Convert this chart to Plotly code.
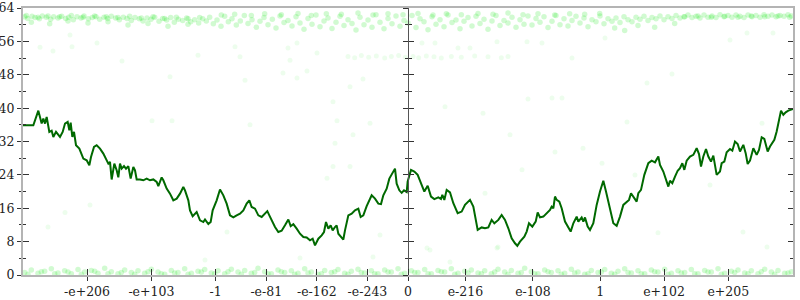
import math
import plotly.graph_objects as go

# x axis: ordinal position of a double on a symmetric exponent scale, in buckets
HALF = 1155  # buckets per sign

def bucket(v):
    if v == 0:
        return 0.0
    s = 1 if v > 0 else -1
    return s * (math.log2(abs(v)) + 1023) / 2048 * HALF

tick_labels = ["-e+206", "-e+103", "-1", "-e-81", "-e-162", "-e-243", "0",
               "e-216", "e-108", "1", "e+102", "e+205"]
tick_values = [-1e206, -1e103, -1.0, -1e-81, -1e-162, -1e-243, 0.0,
               1e-216, 1e-108, 1.0, 1e102, 1e205]

line_x = [-1155, -1124, -1109, -1099, -1094, -1089, -1084, -1076, -1069, -1064, -1056, -1049, -1044, -1036,
          -1029, -1021, -1016, -1012, -1007, -1002, -996, -986, -974, -964, -956, -951, -942, -934, -924,
          -914, -906, -899, -894, -889, -881, -874, -869, -864, -859, -852, -846, -839, -832, -824, -819,
          -814, -804, -794, -784, -774, -764, -754, -749, -739, -734, -724, -714, -704, -694, -684, -674,
          -669, -659, -654, -646, -634, -624, -614, -609, -599, -592, -586, -574, -564, -554, -544, -534,
          -524, -514, -504, -494, -484, -476, -469, -459, -449, -439, -429, -422, -416, -409, -399, -389,
          -379, -369, -359, -352, -344, -334, -324, -314, -304, -294, -286, -279, -269, -259, -252, -246,
          -239, -232, -226, -219, -214, -209, -202, -194, -189, -179, -169, -159, -149, -142, -134, -124,
          -109, -99, -89, -81, -74, -64, -56, -46, -39, -34, -26, -19, -12, -4,
          -1, 9, 19, 29, 39, 49, 59, 69, 79, 91, 99, 103, 109, 116, 126, 136, 149, 161, 171, 186, 196, 203,
          209, 221, 231, 241, 251, 259, 271, 281, 291, 301, 311, 321, 328, 336, 349, 356, 363, 373, 383,
          389, 396, 406, 416, 426, 431, 436, 441, 446, 454, 461, 471, 481, 488, 496, 506, 511, 521, 526,
          531, 539, 546, 556, 566, 576, 586, 594, 603, 616, 626, 636, 646, 656, 663, 669, 676, 686, 691,
          699, 709, 721, 731, 741, 751, 756, 766, 781, 786, 793, 801, 809, 816, 823, 829, 836, 846, 856,
          866, 873, 879, 886, 894, 901, 909, 916, 926, 936, 941, 949, 956, 966, 973, 981, 989, 996, 1006,
          1013, 1019, 1026, 1036, 1046, 1053, 1061, 1069, 1079, 1086, 1099, 1106, 1113, 1119, 1126, 1133,
          1141, 1151, 1155]
line_y = [35.9, 35.9, 39.4, 36.3, 37.5, 36.3, 37.9, 34.3, 34.6, 33.1, 34.3, 33.5, 33.1, 34.3,
          36.3, 36.7, 34.7, 36.5, 33.1, 34.3, 31.1, 30.3, 27.9, 27.5, 26.3, 28.3, 30.7, 31.1, 30.3,
          29.1, 27.9, 26.7, 27.1, 22.9, 26.7, 25.1, 23.4, 26.7, 25.5, 26.1, 25.5, 26.1, 23.1, 25.9, 25.1,
          22.9, 22.9, 22.7, 23.1, 22.7, 22.9, 22.3, 21.3, 23.4, 22.7, 20.7, 19.5, 17.9, 18.3, 19.5, 21.1,
          20.3, 17.9, 15.5, 14.1, 15.1, 13.1, 12.7, 13.3, 12.2, 12.7, 15.5, 17.9, 20.5, 19.1, 17.1, 14.3,
          13.8, 14.3, 14.7, 15.5, 17.1, 17.9, 16.3, 15.9, 14.3, 13.9, 14.7, 15.3, 14.3, 13.1, 11.5, 10.3,
          10.6, 11.9, 13.3, 11.7, 12.2, 11.1, 9.9, 9.1, 9.0, 8.3, 8.7, 7.1, 8.7, 9.5, 10.3, 12.7,
          11.1, 11.9, 10.7, 11.5, 11.9, 9.9, 9.1, 8.5, 10.7, 14.3, 14.7, 15.5, 15.9, 13.9, 14.3, 16.5,
          19.1, 18.3, 17.1, 17.0, 19.1, 20.7, 23.1, 24.7, 25.5, 21.9, 20.3, 19.7, 20.3, 19.9,
          22.4, 25.2, 24.8, 24.0, 21.8, 20.0, 21.4, 18.8, 18.2, 18.6, 18.2, 19.2, 18.0, 20.4, 19.8, 17.2, 14.8, 15.2, 16.8, 18.0, 16.4, 13.6,
          10.8, 11.4, 11.2, 11.4, 13.2, 12.4, 13.2, 14.4, 13.2, 11.2, 8.8, 7.6, 7.0, 8.0, 9.2, 10.4, 12.4, 11.6, 12.8,
          15.0, 13.8, 14.0, 14.8, 15.6, 16.4, 16.0, 18.8, 18.0, 17.6, 16.0, 12.8, 11.2, 10.4, 12.4, 14.0, 12.8, 13.8, 12.8,
          13.8, 11.6, 10.8, 12.4, 16.8, 20.0, 22.6, 20.0, 16.8, 12.4, 11.8, 14.0, 16.8, 17.6, 18.0, 19.6, 18.8, 17.6, 19.6,
          20.4, 24.0, 26.8, 27.4, 27.0, 28.4, 26.4, 24.8, 21.2, 22.6, 22.0, 23.6, 25.0, 25.6, 26.8, 25.2, 27.4, 28.4, 28.8,
          30.4, 29.0, 26.0, 28.4, 30.2, 28.4, 27.2, 28.6, 24.0, 24.8, 26.8, 27.2, 29.4, 30.2, 29.8, 32.0, 31.4, 29.6, 31.2,
          29.2, 26.6, 27.4, 30.4, 28.8, 30.0, 33.0, 32.6, 29.6, 30.8, 32.4, 34.4, 36.8, 39.4, 38.4, 39.0,
          39.4, 39.8, 39.8]

# scattered samples (bucket, value)
top_band = [(-1150, 61.9), (-1141, 61.5), (-1128, 62.0), (-1119, 61.7), (-1106, 61.4), (-1097, 62.1),
            (-1085, 61.8), (-1072, 61.3), (-1063, 61.9), (-1050, 61.6), (-1039, 62.0), (-1027, 61.5),
            (-1018, 61.8), (-1004, 61.2), (-993, 61.9), (-981, 61.6), (-972, 62.1), (-959, 61.4),
            (-947, 61.7), (-936, 61.9), (-925, 61.3), (-912, 61.8), (-901, 61.5), (-890, 62.0),
            (-877, 61.6), (-866, 61.2), (-854, 61.8), (-843, 61.5), (-830, 61.0), (-819, 61.7),
            (-806, 61.4), (-795, 60.9), (-783, 61.6), (-771, 61.3), (-760, 61.8), (-747, 60.8),
            (-736, 61.5), (-724, 61.1), (-712, 61.7), (-701, 60.6), (-689, 61.3), (-676, 61.0),
            (-664, 61.6), (-652, 60.7), (-640, 61.2), (-628, 60.4), (-616, 61.4), (-605, 60.9),
            (-1130, 60.6), (-1075, 60.2), (-1020, 60.9), (-960, 60.4), (-900, 60.7), (-840, 59.9),
            (-780, 60.3), (-720, 59.6), (-660, 60.1),
            (-1145, 62.2), (-1110, 61.8), (-1080, 62.1), (-1045, 61.9), (-1010, 62.2), (-975, 61.8),
            (-940, 62.1), (-905, 61.9), (-870, 61.7), (-835, 62.0), (-800, 61.6), (-765, 61.9),
            (-730, 61.5), (-695, 61.8), (-660, 61.4), (-625, 61.7),
            (-595, 61.8), (-584, 60.2), (-573, 61.1), (-561, 59.6), (-550, 62.0), (-539, 60.7),
            (-528, 61.4), (-515, 59.9), (-503, 60.9), (-491, 62.2), (-480, 60.3), (-468, 61.2),
            (-455, 59.4), (-444, 60.8), (-432, 61.7), (-420, 60.0), (-407, 61.3), (-396, 59.2),
            (-384, 62.1), (-372, 60.5), (-360, 61.0), (-348, 59.7), (-336, 61.9), (-324, 60.4),
            (-312, 58.9), (-300, 61.5), (-288, 60.1), (-276, 62.3), (-264, 59.5), (-252, 60.9),
            (-240, 61.6), (-228, 59.1), (-216, 60.6), (-204, 62.0), (-192, 59.8), (-180, 61.2),
            (-168, 60.3), (-156, 58.7), (-144, 61.8), (-132, 60.0), (-120, 61.1), (-108, 59.4),
            (-96, 62.4), (-84, 60.6), (-72, 59.0), (-60, 61.5), (-48, 60.2), (-36, 62.1),
            (-24, 59.6), (-12, 61.0), (0, 60.4), (12, 62.2), (24, 59.3), (36, 61.4), (48, 60.7),
            (60, 58.8), (72, 61.9), (84, 60.1), (96, 61.2), (108, 59.5), (120, 62.3), (132, 60.5),
            (144, 61.1), (156, 59.0), (168, 60.8), (180, 61.7), (192, 59.7), (204, 62.0),
            (216, 60.3), (228, 61.3), (240, 58.9), (252, 60.9), (264, 62.2), (276, 59.8),
            (288, 61.0), (300, 60.4), (312, 61.8), (324, 59.4), (336, 61.2), (348, 60.1),
            (360, 62.1), (372, 59.9), (384, 61.5), (396, 60.6), (408, 61.9), (420, 59.3),
            (432, 60.8), (444, 62.2), (456, 60.0), (468, 61.4), (480, 59.7), (492, 61.0),
            (504, 62.0), (516, 60.4), (528, 61.6), (540, 59.5), (552, 61.2), (564, 60.7),
            (576, 62.1), (588, 60.2), (600, 61.4),
            (-560, 62.3), (-520, 62.5), (-470, 62.2), (-430, 62.6), (-380, 62.4), (-330, 62.7),
            (-290, 62.2), (-245, 62.6), (-200, 62.5), (-150, 62.8), (-105, 62.3), (-60, 62.6),
            (-15, 62.4), (30, 62.7), (75, 62.3), (115, 62.6), (160, 62.4), (210, 62.7), (255, 62.5),
            (300, 62.8), (345, 62.4), (390, 62.6), (440, 62.3), (485, 62.6), (530, 62.5), (575, 62.7),
            (612, 60.8), (624, 61.6), (636, 60.5), (648, 61.9), (660, 61.2), (672, 60.7), (684, 61.8),
            (696, 61.3), (708, 62.0), (720, 61.0), (732, 61.7), (744, 61.4), (756, 62.1), (768, 61.2),
            (780, 61.9), (792, 61.5), (804, 62.2), (816, 61.6), (828, 61.9), (840, 62.3), (852, 61.7),
            (864, 62.0), (876, 61.6), (888, 62.3), (900, 61.8), (912, 62.1), (924, 61.7), (936, 62.4),
            (948, 61.9), (960, 62.2), (972, 61.8), (984, 62.3), (996, 62.0), (1008, 61.7), (1020, 62.3),
            (1032, 61.9), (1044, 62.2), (1056, 61.8), (1068, 62.4), (1080, 62.0), (1092, 62.3),
            (1104, 61.9), (1116, 62.2), (1128, 62.0), (1140, 62.4), (1150, 62.1),
            (830, 61.9), (870, 62.1), (910, 61.8), (950, 62.0), (990, 61.8), (1030, 62.1),
            (1070, 61.9), (1110, 62.1), (1145, 61.8),
            (620, 59.2), (650, 58.6), (690, 59.8), (740, 59.4), (800, 60.3)]

mid_band = [(-180, 52.4), (-160, 52.1), (-140, 52.6), (-118, 52.2), (-95, 52.5), (-70, 52.0),
            (-50, 52.4), (-28, 52.6), (-8, 52.2), (15, 52.4), (32, 52.1), (55, 52.5), (78, 52.3),
            (100, 52.0), (130, 52.4), (160, 52.2), (200, 52.5), (240, 52.3), (280, 52.1), (300, 52.4)]

bottom_band = [(-1150, 0.6), (-1130, 1.2), (-1110, 0.4), (-1090, 0.9), (-1070, 1.5), (-1050, 0.5),
               (-1030, 1.0), (-1010, 0.3), (-990, 1.3), (-970, 0.7), (-950, 1.1), (-930, 0.4),
               (-910, 1.6), (-890, 0.8), (-870, 0.3), (-850, 1.2), (-830, 0.6), (-810, 1.0),
               (-790, 0.4), (-770, 1.4), (-750, 0.7), (-730, 0.2), (-710, 1.1), (-690, 0.6),
               (-670, 1.5), (-650, 0.4), (-630, 0.9), (-610, 1.3), (-590, 0.5), (-570, 1.0),
               (-550, 0.3), (-530, 1.4), (-510, 0.7), (-490, 1.1), (-470, 0.4), (-450, 1.6),
               (-430, 0.8), (-410, 0.3), (-390, 1.2), (-370, 0.6), (-350, 1.0), (-330, 0.4),
               (-310, 1.5), (-290, 0.7), (-270, 0.2), (-250, 1.1), (-230, 0.6), (-210, 1.3),
               (-190, 0.4), (-170, 0.9), (-150, 1.4), (-130, 0.5), (-110, 1.0), (-90, 0.3),
               (-70, 1.2), (-50, 0.7), (-30, 1.5), (-10, 0.4), (10, 1.0), (30, 0.6), (50, 1.3),
               (70, 0.3), (90, 1.1), (110, 0.7), (130, 1.5), (150, 0.4), (170, 0.9), (190, 1.2),
               (210, 0.5), (230, 1.0), (250, 0.3), (270, 1.4), (290, 0.7), (310, 1.1), (330, 0.4),
               (350, 1.6), (370, 0.8), (390, 0.3), (410, 1.2), (430, 0.6), (450, 1.0), (470, 0.4),
               (490, 1.4), (510, 0.7), (530, 0.2), (550, 1.1), (570, 0.6), (590, 1.3), (610, 0.4),
               (630, 0.9), (650, 1.5), (670, 0.5), (690, 1.0), (710, 0.3), (730, 1.2), (750, 0.7),
               (770, 1.4), (790, 0.4), (810, 1.0), (830, 0.6), (850, 1.3), (870, 0.3), (890, 1.1),
               (910, 0.7), (930, 1.5), (950, 0.4), (970, 0.9), (990, 1.2), (1010, 0.5), (1030, 1.0),
               (1050, 0.3), (1070, 1.4), (1090, 0.7), (1110, 1.1), (1130, 0.4), (1150, 0.8),
               (-1140, 0.2), (-1100, 0.8), (-1060, 0.3), (-1020, 0.7), (-980, 0.2), (-940, 0.9),
               (-900, 0.3), (-860, 0.6), (-820, 0.2), (-780, 0.8), (-740, 0.3), (-700, 0.5),
               (-660, 0.2), (-620, 0.7), (-580, 0.3), (-540, 0.8), (-500, 0.2), (-460, 0.6),
               (-420, 0.3), (-380, 0.8), (-340, 0.2), (-300, 0.5), (-260, 0.3), (-220, 0.8),
               (-180, 0.2), (-140, 0.6), (-100, 0.3), (-60, 0.7), (-20, 0.2), (20, 0.6), (60, 0.3),
               (100, 0.8), (140, 0.2), (180, 0.5), (220, 0.3), (260, 0.7), (300, 0.2), (340, 0.6),
               (380, 0.3), (420, 0.8), (460, 0.2), (500, 0.5), (540, 0.3), (580, 0.7), (620, 0.2),
               (660, 0.6), (700, 0.3), (740, 0.8), (780, 0.2), (820, 0.5), (860, 0.3), (900, 0.7),
               (940, 0.2), (980, 0.6), (1020, 0.3), (1060, 0.8), (1100, 0.2), (1140, 0.5)]

stray = [(-1029, 15.0), (-954, 16.8), (-1080, 11.5), (-768, 37.0), (-708, 37.0), (-474, 36.0),
         (-225, 41.5), (-213, 37.0), (-114, 36.4), (-165, 33.6), (-219, 31.6), (-225, 26.0),
         (-174, 26.0), (-243, 23.2), (-84, 9.6), (-543, 10.3),
         (111, 40.3), (225, 38.8), (360, 42.2), (432, 42.4), (462, 42.4), (657, 36.7), (306, 33.6),
         (525, 30.4), (441, 29.5), (342, 25.2), (582, 26.8), (681, 24.0), (1062, 36.4), (906, 21.6),
         (750, 10.1), (1005, 10.3), (57, 6.5), (267, 6.5), (1077, 6.7), (231, 19.6),
         (-609, 3.6), (-324, 4.1), (-105, 4.3), (66, 6.0), (126, 3.1), (270, 6.7),
         (-519, 54.7), (-504, 52.3), (-360, 54.4), (-333, 55.6), (-303, 48.9), (-375, 48.4),
         (-489, 46.7), (-333, 47.2), (-135, 47.0), (-174, 45.1), (-273, 53.2), (-354, 51.5),
         (-933, 55.6), (-1065, 53.7), (-1104, 54.6), (-858, 51.3), (-714, 47.5), (-630, 52.7),
         (-1008, 54.7), (-1014, 57.5), (717, 46.0), (792, 48.2), (966, 56.3), (1095, 58.0),
         (1017, 58.0), (591, 56.8), (267, 55.9), (357, 55.9), (402, 55.6), (150, 54.4), (186, 54.4),
         (81, 55.6), (42, 55.6), (492, 52.0)]

band_pts = top_band + bottom_band
faint_pts = mid_band + stray

FONT = dict(family="DejaVu Serif", size=12.5, color="#222")
AXGRAY = "#b4b4b4"
TICK = "#333"

fig = go.Figure()
fig.add_trace(go.Scatter(x=[p[0] for p in faint_pts], y=[p[1] for p in faint_pts], mode="markers",
                         marker=dict(size=5, color="rgba(0,225,0,0.07)", line=dict(width=0)),
                         hoverinfo="skip", showlegend=False))
fig.add_trace(go.Scatter(x=[p[0] for p in band_pts], y=[p[1] for p in band_pts], mode="markers",
                         marker=dict(size=5.5, color="rgba(0,225,0,0.18)", line=dict(width=0)),
                         hoverinfo="skip", showlegend=False))
fig.add_trace(go.Scatter(x=line_x, y=line_y, mode="lines",
                         line=dict(color="rgb(0,105,0)", width=2),
                         hoverinfo="skip", showlegend=False))
# empty traces so the extra tick axes get drawn
for xa, ya in [("x2", "y2"), ("x", "y3"), ("x", "y4"), ("x", "y5")]:
    fig.add_trace(go.Scatter(x=[0], y=[-100], xaxis=xa, yaxis=ya, mode="markers",
                             marker=dict(size=1, opacity=0), hoverinfo="skip", showlegend=False))

xt = [bucket(v) for v in tick_values]
common_y = dict(range=[0, 64], tick0=0, dtick=8, showgrid=False, zeroline=False, tickcolor=TICK,
                automargin=False)

fig.update_layout(
    width=800, height=300,
    margin=dict(l=23, r=7, t=8, b=25, autoexpand=False),
    plot_bgcolor="white", paper_bgcolor="white",
    font=FONT,
    showlegend=False,
    xaxis=dict(range=[-HALF, HALF], tickvals=xt, ticktext=tick_labels, ticks="outside", ticklen=4,
               tickcolor=TICK, showline=True, linecolor=AXGRAY, linewidth=2, mirror=True,
               showgrid=False, zeroline=False, tickfont=FONT, automargin=False),
    xaxis2=dict(range=[-HALF, HALF], overlaying="x", anchor="y", side="bottom", tickvals=xt,
                ticks="inside", ticklen=6, tickcolor=TICK, showticklabels=False, showline=False,
                showgrid=False, zeroline=False, automargin=False),
    yaxis=dict(**common_y, ticks="outside", ticklen=4, showline=True, linecolor=AXGRAY, linewidth=2,
               tickfont=FONT,
               minor=dict(ticks="outside", ticklen=2, dtick=4, tick0=0, tickcolor=TICK)),
    yaxis2=dict(**common_y, overlaying="y", side="left", anchor="x", ticks="inside", ticklen=6,
                showticklabels=False, showline=False,
                minor=dict(ticks="inside", ticklen=3, dtick=4, tick0=0, tickcolor=TICK)),
    yaxis3=dict(**common_y, overlaying="y", side="right", anchor="x", ticks="inside", ticklen=5,
                showticklabels=False, showline=True, linecolor=AXGRAY, linewidth=2,
                minor=dict(ticks="inside", ticklen=3, dtick=4, tick0=0, tickcolor=TICK)),
    yaxis4=dict(**common_y, overlaying="y", side="left", anchor="free", position=0.5,
                ticks="outside", ticklen=5, showticklabels=False, showline=True,
                linecolor="#555", linewidth=1,
                minor=dict(ticks="outside", ticklen=3, dtick=4, tick0=0, tickcolor=TICK)),
    yaxis5=dict(**common_y, overlaying="y", side="left", anchor="free", position=0.5,
                ticks="inside", ticklen=5, showticklabels=False, showline=False,
                minor=dict(ticks="inside", ticklen=3, dtick=4, tick0=0, tickcolor=TICK)),
)

fig.write_html("out.html")
